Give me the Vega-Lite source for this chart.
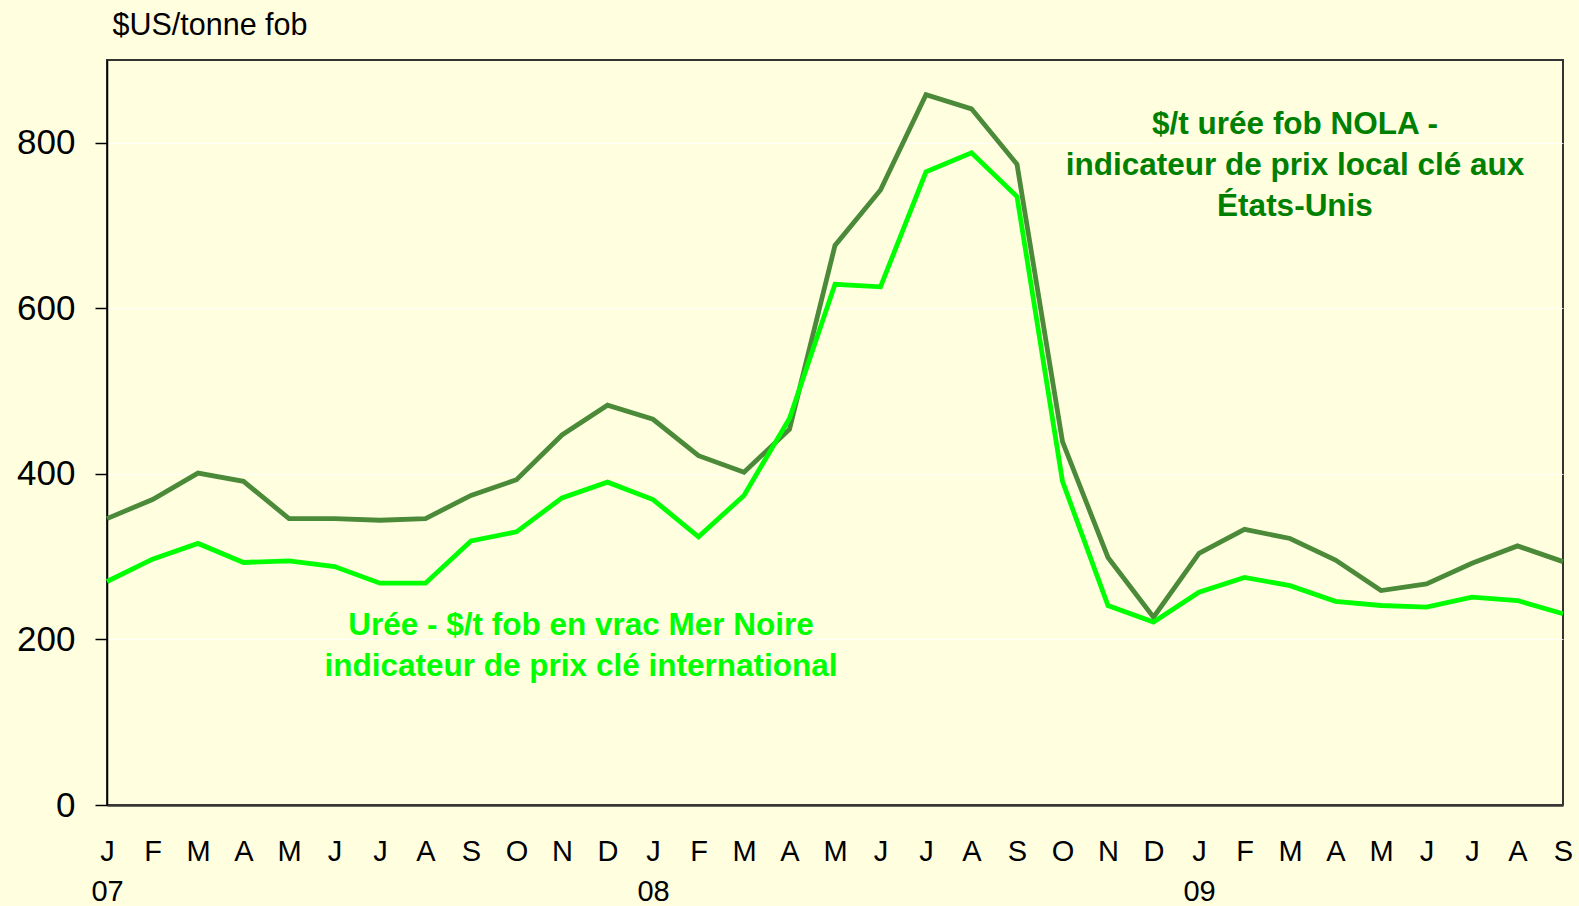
{
  "$schema": "https://vega.github.io/schema/vega-lite/v6.json",
  "width": 1456,
  "height": 745,
  "autosize": {"type": "none"},
  "padding": {"left": 107, "top": 60, "right": 16, "bottom": 101},
  "background": "#FFFFE0",
  "config": {
    "font": "Liberation Sans",
    "view": {"stroke": "#333333", "strokeWidth": 2, "fill": "#FFFFE0"}
  },
  "datasets": {
    "prices": [
      {"month": "2007-01", "series": "NOLA", "price": 346},
      {"month": "2007-02", "series": "NOLA", "price": 369},
      {"month": "2007-03", "series": "NOLA", "price": 401},
      {"month": "2007-04", "series": "NOLA", "price": 391},
      {"month": "2007-05", "series": "NOLA", "price": 346},
      {"month": "2007-06", "series": "NOLA", "price": 346},
      {"month": "2007-07", "series": "NOLA", "price": 344},
      {"month": "2007-08", "series": "NOLA", "price": 346},
      {"month": "2007-09", "series": "NOLA", "price": 374},
      {"month": "2007-10", "series": "NOLA", "price": 393},
      {"month": "2007-11", "series": "NOLA", "price": 447},
      {"month": "2007-12", "series": "NOLA", "price": 483},
      {"month": "2008-01", "series": "NOLA", "price": 466},
      {"month": "2008-02", "series": "NOLA", "price": 422},
      {"month": "2008-03", "series": "NOLA", "price": 402},
      {"month": "2008-04", "series": "NOLA", "price": 454},
      {"month": "2008-05", "series": "NOLA", "price": 676},
      {"month": "2008-06", "series": "NOLA", "price": 743},
      {"month": "2008-07", "series": "NOLA", "price": 858},
      {"month": "2008-08", "series": "NOLA", "price": 841},
      {"month": "2008-09", "series": "NOLA", "price": 774},
      {"month": "2008-10", "series": "NOLA", "price": 439},
      {"month": "2008-11", "series": "NOLA", "price": 299},
      {"month": "2008-12", "series": "NOLA", "price": 227},
      {"month": "2009-01", "series": "NOLA", "price": 304},
      {"month": "2009-02", "series": "NOLA", "price": 333},
      {"month": "2009-03", "series": "NOLA", "price": 322},
      {"month": "2009-04", "series": "NOLA", "price": 296},
      {"month": "2009-05", "series": "NOLA", "price": 259},
      {"month": "2009-06", "series": "NOLA", "price": 267},
      {"month": "2009-07", "series": "NOLA", "price": 292},
      {"month": "2009-08", "series": "NOLA", "price": 313},
      {"month": "2009-09", "series": "NOLA", "price": 294},
      {"month": "2007-01", "series": "Mer Noire", "price": 270},
      {"month": "2007-02", "series": "Mer Noire", "price": 297},
      {"month": "2007-03", "series": "Mer Noire", "price": 316},
      {"month": "2007-04", "series": "Mer Noire", "price": 293},
      {"month": "2007-05", "series": "Mer Noire", "price": 295},
      {"month": "2007-06", "series": "Mer Noire", "price": 288},
      {"month": "2007-07", "series": "Mer Noire", "price": 268},
      {"month": "2007-08", "series": "Mer Noire", "price": 268},
      {"month": "2007-09", "series": "Mer Noire", "price": 319},
      {"month": "2007-10", "series": "Mer Noire", "price": 330},
      {"month": "2007-11", "series": "Mer Noire", "price": 371},
      {"month": "2007-12", "series": "Mer Noire", "price": 390},
      {"month": "2008-01", "series": "Mer Noire", "price": 369},
      {"month": "2008-02", "series": "Mer Noire", "price": 324},
      {"month": "2008-03", "series": "Mer Noire", "price": 374},
      {"month": "2008-04", "series": "Mer Noire", "price": 467},
      {"month": "2008-05", "series": "Mer Noire", "price": 629},
      {"month": "2008-06", "series": "Mer Noire", "price": 626},
      {"month": "2008-07", "series": "Mer Noire", "price": 765},
      {"month": "2008-08", "series": "Mer Noire", "price": 788},
      {"month": "2008-09", "series": "Mer Noire", "price": 735},
      {"month": "2008-10", "series": "Mer Noire", "price": 391},
      {"month": "2008-11", "series": "Mer Noire", "price": 241},
      {"month": "2008-12", "series": "Mer Noire", "price": 221},
      {"month": "2009-01", "series": "Mer Noire", "price": 257},
      {"month": "2009-02", "series": "Mer Noire", "price": 275},
      {"month": "2009-03", "series": "Mer Noire", "price": 265},
      {"month": "2009-04", "series": "Mer Noire", "price": 246},
      {"month": "2009-05", "series": "Mer Noire", "price": 241},
      {"month": "2009-06", "series": "Mer Noire", "price": 239},
      {"month": "2009-07", "series": "Mer Noire", "price": 251},
      {"month": "2009-08", "series": "Mer Noire", "price": 247},
      {"month": "2009-09", "series": "Mer Noire", "price": 231}
    ],
    "noteNola": [
      {"month": "2009-03", "series": "NOLA", "price": 821, "label": "$/t urée fob NOLA -\nindicateur de prix local clé aux\nÉtats-Unis"}
    ],
    "noteMer": [
      {"month": "2007-11", "series": "Mer Noire", "price": 216, "label": "Urée - $/t fob en vrac Mer Noire\nindicateur de prix clé international"}
    ]
  },
  "layer": [
    {
      "data": {"name": "prices"},
      "mark": {"type": "line", "strokeWidth": 4.8, "strokeJoin": "miter"},
      "encoding": {
        "x": {
          "field": "month", "type": "ordinal", "sort": null,
          "scale": {"type": "point", "padding": 0},
          "axis": {
            "title": null, "ticks": false, "tickSize": 0, "grid": false,
            "domainColor": "#383838", "domainWidth": 2.5,
            "labelFontSize": 29, "labelColor": "#000000", "labelPadding": 32,
            "labelAngle": 0, "labelBaseline": "top", "labelLineHeight": 40,
            "labelOverlap": false, "labelFlush": false,
            "labelExpr": "substring(datum.value,5,7)=='01' ? ['J', substring(datum.value,2,4)] : substring('JFMAMJJASOND', toNumber(substring(datum.value,5,7))-1, toNumber(substring(datum.value,5,7)))"
          }
        },
        "y": {
          "field": "price", "type": "quantitative",
          "scale": {"domain": [0, 900], "nice": false},
          "axis": {
            "values": [0, 200, 400, 600, 800],
            "title": "$US/tonne fob", "titleAngle": 0, "titleAlign": "left",
            "titleBaseline": "alphabetic", "titleX": 5, "titleY": -26,
            "titleFontSize": 30.5, "titleFontWeight": "normal", "titleColor": "#000000",
            "domainColor": "#000000", "domainWidth": 1.5,
            "tickColor": "#000000", "tickSize": 12, "tickWidth": 1.5,
            "labelFontSize": 35, "labelColor": "#000000", "labelPadding": 20,
            "grid": true, "gridColor": "#ffffff", "gridOpacity": 0.8, "gridWidth": 1
          }
        },
        "color": {
          "field": "series", "type": "nominal",
          "scale": {"domain": ["NOLA", "Mer Noire"], "range": ["#4A8A38", "#00FF00"]},
          "legend": null
        }
      }
    },
    {
      "data": {"name": "noteNola"},
      "mark": {"type": "text", "fontSize": 31.5, "fontWeight": "bold", "align": "center", "baseline": "middle", "lineBreak": "\n", "lineHeight": 41, "dx": 5, "color": "#008000"},
      "encoding": {
        "x": {"field": "month", "type": "ordinal", "sort": null},
        "y": {"field": "price", "type": "quantitative"},
        "text": {"field": "label"}
      }
    },
    {
      "data": {"name": "noteMer"},
      "mark": {"type": "text", "fontSize": 31.5, "fontWeight": "bold", "align": "center", "baseline": "middle", "lineBreak": "\n", "lineHeight": 41, "dx": 19, "color": "#00FF00"},
      "encoding": {
        "x": {"field": "month", "type": "ordinal", "sort": null},
        "y": {"field": "price", "type": "quantitative"},
        "text": {"field": "label"}
      }
    }
  ]
}
